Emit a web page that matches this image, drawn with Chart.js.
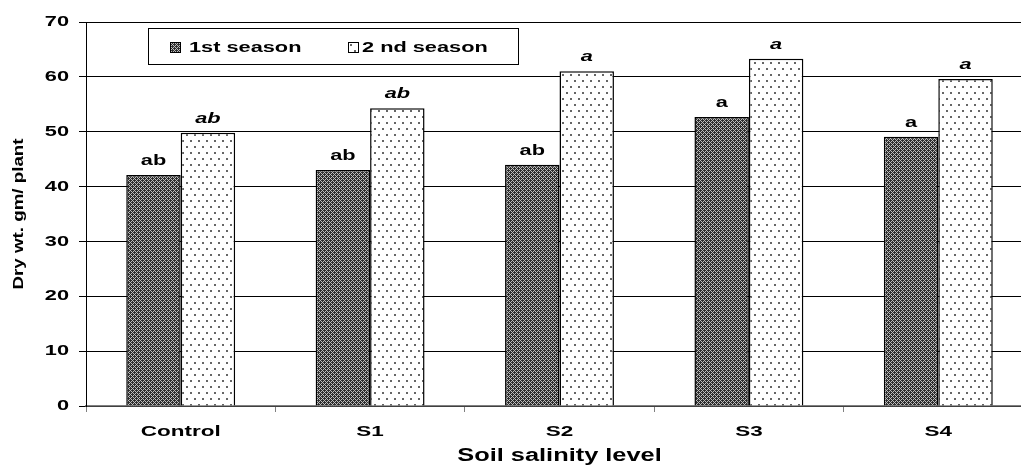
<!DOCTYPE html>
<html lang="en">

<head>
  <meta charset="UTF-8" />
  <title>Dry weight by soil salinity</title>
  <script src="https://cdn.jsdelivr.net/npm/chart.js"></script>
  <style>
    body { margin: 0; background: #fff; }
    #wrap { width: 1021px; height: 465px; overflow: hidden; }
  </style>
</head>

<body>
  <div id="wrap">
    <canvas id="myChart" width="1040" height="465"></canvas>
  </div>

  <script>
    // data
    const levels = ["Control", "S1", "S2", "S3", "S4"];
    const season1 = [42.1, 43.0, 44.0, 52.7, 49.1];
    const season2 = [49.8, 54.3, 61.0, 63.3, 59.6];
    const letters1 = ["ab", "ab", "ab", "a", "a"];
    const letters2 = ["ab", "ab", "a", "a", "a"];
    const yTicks = [0, 10, 20, 30, 40, 50, 60, 70];

    const FONT = "'Liberation Sans', Arial, sans-serif";

    /* fill patterns */
    function crossPattern() {
      const c = document.createElement("canvas");
      c.width = 4; c.height = 4;
      const g = c.getContext("2d");
      g.fillStyle = "#2e2e2e";
      g.fillRect(0, 0, 4, 4);
      g.fillStyle = "#bdbdbd";
      [[0, 0], [1, 1], [2, 2], [3, 3], [1, 3], [3, 1]].forEach(([x, y]) => g.fillRect(x, y, 1, 1));
      return g.createPattern(c, "repeat");
    }
    function dotPattern() {
      const c = document.createElement("canvas");
      c.width = 8; c.height = 12;
      const g = c.getContext("2d");
      g.fillStyle = "#fff";
      g.fillRect(0, 0, 8, 12);
      g.fillStyle = "#666";
      g.fillRect(2, 2, 2, 2);
      g.fillRect(6, 8, 2, 2);
      return g.createPattern(c, "repeat");
    }
    const darkFill = crossPattern();
    const lightFill = dotPattern();

    var ctx = document.getElementById("myChart").getContext("2d");

    // the source figure has horizontally stretched lettering:
    // widen every string around its anchor point (rotated title a bit less)
    const plainFill = ctx.fillText;
    const plainMeasure = ctx.measureText;
    ctx.fillText = function (text, x, y) {
      const t = this.getTransform();
      const sx = Math.abs(t.b) > 0.01 ? 1.25 : 1.45;
      this.save();
      this.translate(x, y);
      this.scale(sx, 1);
      plainFill.call(this, text, 0, 0);
      this.restore();
    };
    ctx.measureText = function (text) {
      const m = plainMeasure.call(this, text);
      return { width: m.width * 1.45, actualBoundingBoxAscent: m.actualBoundingBoxAscent, actualBoundingBoxDescent: m.actualBoundingBoxDescent };
    };

    /* letters above the bars */
    const letterPlugin = {
      id: "letters",
      afterDatasetsDraw(chart) {
        const c = chart.ctx;
        c.save();
        c.fillStyle = "#000";
        c.textAlign = "center";
        c.textBaseline = "alphabetic";
        chart.data.datasets.forEach((ds, i) => {
          const meta = chart.getDatasetMeta(i);
          c.font = (i === 1 ? "italic " : "") + "bold 15px " + FONT;
          meta.data.forEach((bar, j) => {
            c.fillText(ds.letters[j], bar.x, bar.y - 10);
          });
        });
        c.restore();
      },
    };

    /* boxed legend inside the plot */
    const boxLegend = {
      id: "boxLegend",
      afterDraw(chart) {
        const c = chart.ctx;
        c.save();
        c.fillStyle = "#fff";
        c.fillRect(148, 28, 370, 36);
        c.strokeStyle = "#000";
        c.lineWidth = 1;
        c.strokeRect(148.5, 28.5, 370, 36);
        c.font = "bold 15px " + FONT;
        c.textBaseline = "middle";
        c.textAlign = "left";
        const items = [[170, 189, darkFill, chart.data.datasets[0].label], [348, 362, lightFill, chart.data.datasets[1].label]];
        items.forEach(([x, tx, fill, text]) => {
          c.fillStyle = fill;
          c.fillRect(x, 42, 11, 11);
          c.strokeStyle = "#000";
          c.strokeRect(x + 0.5, 42.5, 10, 10);
          c.fillStyle = "#000";
          c.fillText(text, tx, 48);
        });
        c.restore();
      },
    };

    var chart = new Chart(ctx, {
      type: "bar",
      data: {
        labels: levels,
        datasets: [
          {
            label: "1st season",
            data: season1,
            letters: letters1,
            backgroundColor: darkFill,
            borderColor: "#000",
            borderWidth: 1.5,
            categoryPercentage: 0.575,
            barPercentage: 1,
          },
          {
            label: "2 nd season",
            data: season2,
            letters: letters2,
            backgroundColor: lightFill,
            borderColor: "#000",
            borderWidth: 1.5,
            categoryPercentage: 0.575,
            barPercentage: 1,
          },
        ],
      },
      options: {
        responsive: false,
        animation: false,
        layout: { padding: { top: 22, right: 7, left: 0, bottom: 0 } },
        plugins: {
          legend: { display: false },
          tooltip: { enabled: false },
        },
        scales: {
          x: {
            grid: { drawOnChartArea: false, color: "#808080", tickLength: 6, offset: true },
            border: { color: "#808080", width: 1.5 },
            ticks: { color: "#000", font: { family: FONT, size: 15.5, weight: "bold" }, padding: 10 },
            title: {
              display: true,
              text: "Soil salinity level",
              color: "#000",
              font: { family: FONT, size: 17.5, weight: "bold" },
              padding: { top: 0, bottom: -2 },
            },
            afterFit(scale) { scale.height = 59; },
          },
          y: {
            min: 0,
            max: 70,
            afterBuildTicks(scale) { scale.ticks = yTicks.map((v) => ({ value: v })); },
            grid: { color: "#000", lineWidth: 1, tickLength: 7 },
            border: { color: "#000", width: 1 },
            ticks: { color: "#000", font: { family: FONT, size: 15, weight: "bold" }, padding: 10 },
            title: {
              display: true,
              text: "Dry wt. gm/ plant",
              color: "#000",
              font: { family: FONT, size: 15, weight: "bold" },
              padding: { top: 10, bottom: 0 },
            },
            afterFit(scale) { scale.width = 86; },
          },
        },
      },
      plugins: [letterPlugin, boxLegend],
    });
  </script>
</body>

</html>
